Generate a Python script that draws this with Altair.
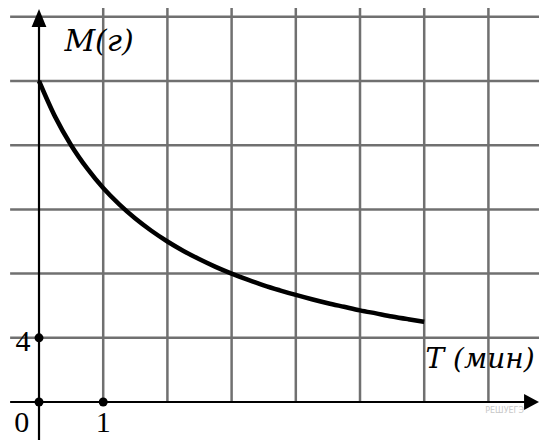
import altair as alt
import pandas as pd

# ---- data ----
curve_t = [0, 0.25, 0.5, 0.75, 1, 1.25, 1.5, 1.75, 2, 2.25, 2.5, 2.75, 3,
           3.25, 3.5, 3.75, 4, 4.25, 4.5, 4.75, 5, 5.25, 5.5, 5.75, 6]
curve_m = [20, 17.78, 16, 14.55, 13.33, 12.31, 11.43, 10.67, 10, 9.41, 8.89,
           8.42, 8, 7.62, 7.27, 6.96, 6.67, 6.4, 6.15, 5.93, 5.71, 5.52, 5.33,
           5.16, 5.0]
grid_t = [1, 2, 3, 4, 5, 6, 7]
grid_m = [4, 8, 12, 16, 20, 24]
dots_t = [0, 1, 0]
dots_m = [0, 0, 4]
tick_labels = ["0", "1", "4"]
tick_t = [-0.27, 1.0, -0.25]
tick_m = [-1.9, -1.9, 3.2]

# ---- frame of the drawing (scale domains) ----
W, H = 531, 432
T_MIN, T_MAX = -0.483, 7.788
M_MIN, M_MAX = -2.368, 24.548

xs = alt.Scale(domain=[T_MIN, T_MAX], nice=False, zero=False)
ys = alt.Scale(domain=[M_MIN, M_MAX], nice=False, zero=False)
GRID = "#707070"
FONT = "Liberation Serif"
IFONT = "DejaVu Serif"

curve_df = pd.DataFrame({"T": curve_t, "M": curve_m})
vgrid_df = pd.DataFrame({"T": grid_t, "y1": [0.0] * len(grid_t), "y2": [M_MAX] * len(grid_t)})
hgrid_df = pd.DataFrame({"M": grid_m, "x1": [-0.45] * len(grid_m), "x2": [T_MAX] * len(grid_m)})
dots_df = pd.DataFrame({"T": dots_t, "M": dots_m})
ticks_df = pd.DataFrame({"T": tick_t, "M": tick_m, "label": tick_labels})

X = lambda f: alt.X(f, type="quantitative", scale=xs, axis=None)
Y = lambda f: alt.Y(f, type="quantitative", scale=ys, axis=None)

vgrid = alt.Chart(vgrid_df).mark_rule(color=GRID, strokeWidth=2.5).encode(
    x=X("T"), y=Y("y1"), y2="y2")
hgrid = alt.Chart(hgrid_df).mark_rule(color=GRID, strokeWidth=2.5).encode(
    x=X("x1"), x2="x2", y=Y("M"))

xaxis_df = pd.DataFrame({"x1": [-0.45], "x2": [7.65], "M": [0]})
yaxis_df = pd.DataFrame({"T": [0], "y1": [M_MIN], "y2": [23.5]})
xaxis = alt.Chart(xaxis_df).mark_rule(color="black", strokeWidth=2.2).encode(
    x=X("x1"), x2="x2", y=Y("M"))
yaxis = alt.Chart(yaxis_df).mark_rule(color="black", strokeWidth=2.2).encode(
    x=X("T"), y=Y("y1"), y2="y2")

arrow_up = alt.Chart(pd.DataFrame({"T": [0], "M": [23.93]})).mark_point(
    shape="M0,-1L0.82,1L-0.82,1Z", filled=True, color="black", opacity=1, size=324
).encode(x=X("T"), y=Y("M"))
arrow_right = alt.Chart(pd.DataFrame({"T": [7.672], "M": [0]})).mark_point(
    shape="M1,0L-1,1.07L-1,-1.07Z", filled=True, color="black", opacity=1, size=225
).encode(x=X("T"), y=Y("M"))

curve = alt.Chart(curve_df).mark_line(
    color="black", strokeWidth=4.5, interpolate="monotone"
).encode(x=X("T"), y=Y("M"))

dots = alt.Chart(dots_df).mark_circle(color="black", opacity=1, size=80).encode(
    x=X("T"), y=Y("M"))

ticks = alt.Chart(ticks_df).mark_text(
    font=FONT, fontSize=30, align="center", baseline="alphabetic", color="black"
).encode(x=X("T"), y=Y("M"), text="label")

ylab = alt.Chart(pd.DataFrame({"T": [0.935], "M": [21.85], "t": ["M(г)"]})).mark_text(
    font=IFONT, fontSize=30, fontStyle="italic", align="center", baseline="alphabetic",
    color="black"
).encode(x=X("T"), y=Y("M"), text="t")

xlab = alt.Chart(pd.DataFrame({"T": [6.87], "M": [2.12], "t": ["T (мин)"]})).mark_text(
    font=IFONT, fontSize=28, fontStyle="italic", align="center", baseline="alphabetic",
    color="black"
).encode(x=X("T"), y=Y("M"), text="t")

wm = alt.Chart(pd.DataFrame({"T": [6.95], "M": [-0.55], "t": ["РЕШУЕГЭ"]})).mark_text(
    font="DejaVu Sans", fontSize=8, align="left", baseline="middle", color="#c8c8c8"
).encode(x=X("T"), y=Y("M"), text="t")

chart = alt.layer(
    vgrid, hgrid, xaxis, yaxis, arrow_up, arrow_right, curve, dots, ticks, ylab, xlab, wm
).properties(
    width=W, height=H, padding=0, autosize=alt.AutoSizeParams(type="none"),
    background="white"
).configure_view(stroke=None)

chart.save("out.html", embed_options={"renderer": "svg", "actions": False})
